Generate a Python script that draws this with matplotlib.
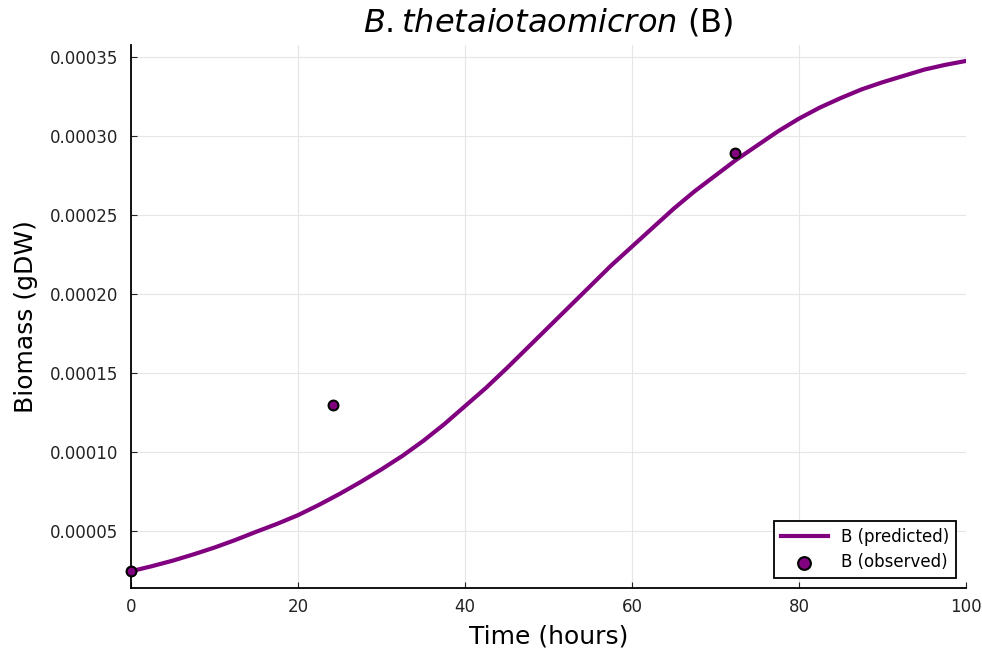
import numpy as np
import matplotlib
matplotlib.use("Agg")
import matplotlib.pyplot as plt

# predicted curve
t_pred = [0, 2.5, 5, 7.5, 10, 12.5, 15, 17.5, 20, 22.5, 25, 27.5, 30, 32.5,
          35, 37.5, 40, 42.5, 45, 47.5, 50, 52.5, 55, 57.5, 60, 62.5, 65,
          67.5, 70, 72.5, 75, 77.5, 80, 82.5, 85, 87.5, 90, 92.5, 95, 97.5, 100]
b_pred = [2.45e-5, 2.77e-5, 3.12e-5, 3.52e-5, 3.95e-5, 4.43e-5, 4.95e-5,
          5.45e-5, 6.0e-5, 6.65e-5, 7.35e-5, 8.1e-5, 8.9e-5, 9.75e-5,
          1.07e-4, 1.175e-4, 1.29e-4, 1.405e-4, 1.53e-4, 1.66e-4, 1.79e-4,
          1.92e-4, 2.05e-4, 2.18e-4, 2.30e-4, 2.42e-4, 2.54e-4, 2.65e-4,
          2.75e-4, 2.85e-4, 2.94e-4, 3.03e-4, 3.11e-4, 3.18e-4, 3.24e-4,
          3.295e-4, 3.34e-4, 3.38e-4, 3.42e-4, 3.45e-4, 3.475e-4]

# observed points
t_obs = [0, 24.2, 72.3]
b_obs = [2.45e-5, 1.30e-4, 2.89e-4]

yticks = [5e-5, 1e-4, 1.5e-4, 2e-4, 2.5e-4, 3e-4, 3.5e-4]
ytick_labels = ["0.00005", "0.00010", "0.00015", "0.00020",
                "0.00025", "0.00030", "0.00035"]

fig = plt.figure(figsize=(9.82, 6.48), dpi=100)
ax = fig.add_axes([0.1334, 0.0926, 0.8503, 0.838])

ax.plot(t_pred, b_pred, color="#800080", lw=3, label="B (predicted)", zorder=3)
ax.scatter(t_obs, b_obs, s=50, color="#800080", edgecolor="black",
           linewidth=1.5, label="B (observed)", zorder=4, clip_on=False)

ax.set_xlim(0, 100)
ax.set_ylim(1.39e-5, 3.576e-4)
ax.set_xticks([0, 20, 40, 60, 80, 100])
ax.set_yticks(yticks)
ax.set_yticklabels(ytick_labels)
ax.tick_params(direction="in", length=4, labelsize=12, colors="#222222")
ax.tick_params(axis="y", pad=9)
ax.tick_params(axis="x", pad=7)
ax.grid(True, color="#e6e6e6", lw=0.8)
ax.set_axisbelow(True)
for s in ["top", "right"]:
    ax.spines[s].set_visible(False)
for s in ["left", "bottom"]:
    ax.spines[s].set_linewidth(1.3)

ax.set_xlabel("Time (hours)", fontsize=18, labelpad=6)
ax.set_ylabel("Biomass (gDW)", fontsize=18, labelpad=9)
ax.set_title(r"$B. thetaiotaomicron$ (B)", fontsize=23, pad=10)

leg = ax.legend(loc="lower right", fontsize=12, frameon=True, fancybox=False,
                edgecolor="black", framealpha=1, borderaxespad=0.6,
                handlelength=2.8, markerscale=1.3, labelspacing=0.45,
                borderpad=0.4)
leg.get_frame().set_linewidth(1.3)

fig.savefig("out.png", dpi=100)
